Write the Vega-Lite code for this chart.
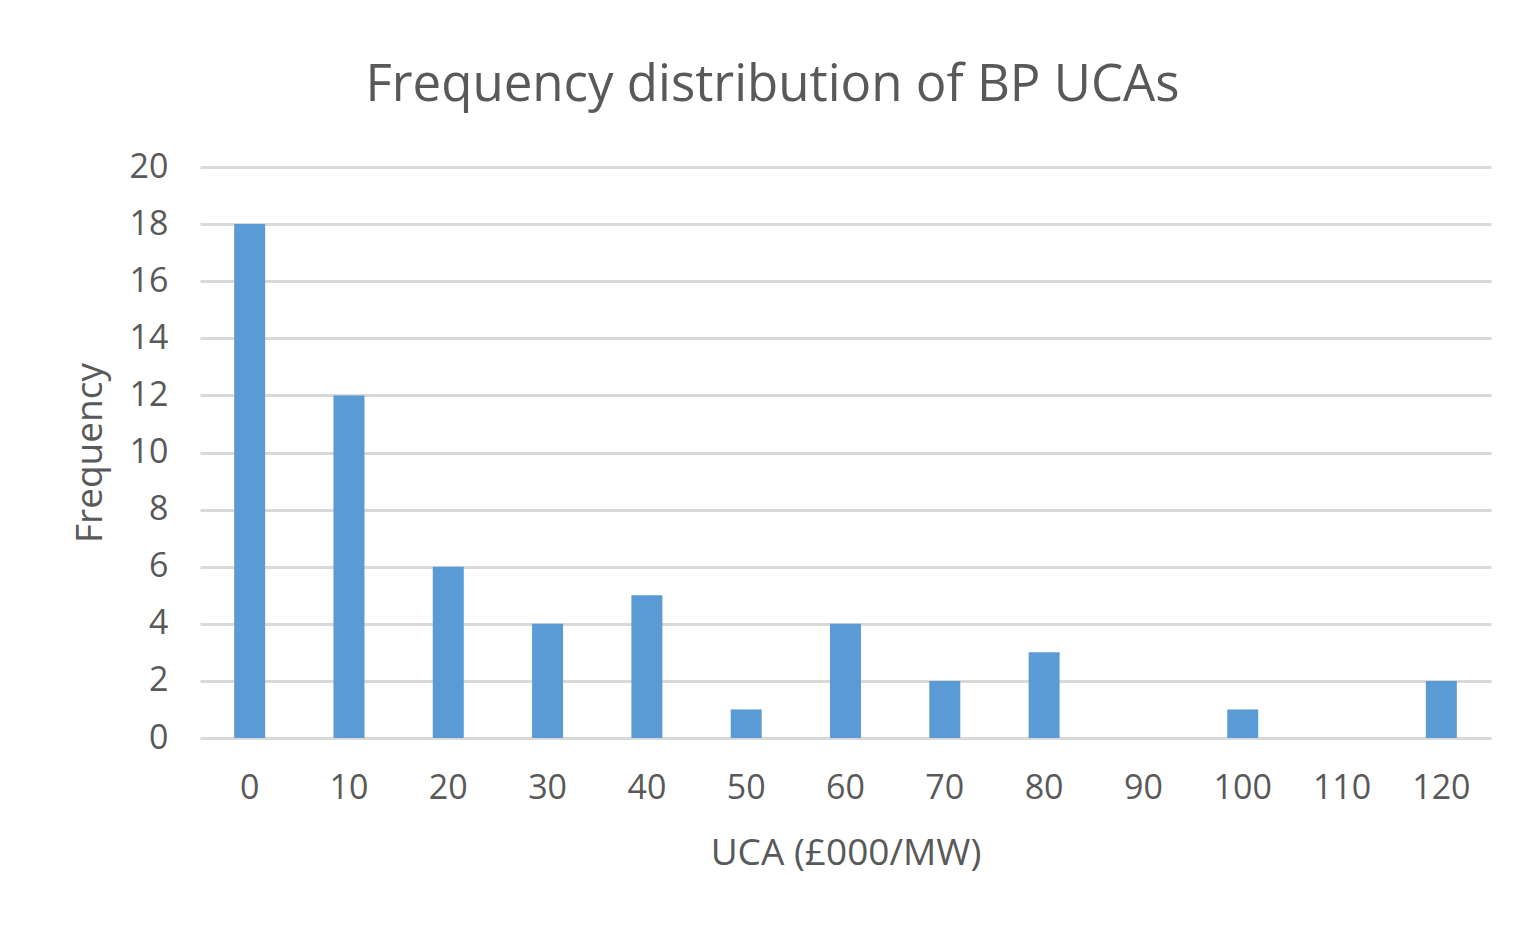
{
  "$schema": "https://vega.github.io/schema/vega-lite/v6.json",
  "autosize": {"type": "none"},
  "width": 1291,
  "height": 571,
  "padding": {"left": 200, "top": 167, "right": 35, "bottom": 189},
  "background": "white",
  "title": {
    "text": "Frequency distribution of BP UCAs",
    "font": "Open Sans",
    "fontSize": 51,
    "fontWeight": "normal",
    "color": "#595959",
    "anchor": "middle",
    "baseline": "alphabetic",
    "offset": -2,
    "dx": -73
  },
  "data": {
    "values": [
      {"uca": 0, "freq": 18},
      {"uca": 10, "freq": 12},
      {"uca": 20, "freq": 6},
      {"uca": 30, "freq": 4},
      {"uca": 40, "freq": 5},
      {"uca": 50, "freq": 1},
      {"uca": 60, "freq": 4},
      {"uca": 70, "freq": 2},
      {"uca": 80, "freq": 3},
      {"uca": 90, "freq": 0},
      {"uca": 100, "freq": 1},
      {"uca": 110, "freq": 0},
      {"uca": 120, "freq": 2}
    ]
  },
  "mark": {"type": "bar", "color": "#5B9BD5"},
  "encoding": {
    "x": {
      "field": "uca",
      "type": "ordinal",
      "scale": {"paddingInner": 0.688, "paddingOuter": 0.344},
      "axis": {
        "title": "UCA (£000/MW)",
        "labelAngle": 0,
        "domain": false,
        "ticks": false,
        "grid": false,
        "labelPadding": 33,
        "titlePadding": 30
      }
    },
    "y": {
      "field": "freq",
      "type": "quantitative",
      "scale": {"domain": [0, 20], "nice": false},
      "axis": {
        "title": "Frequency",
        "values": [0, 2, 4, 6, 8, 10, 12, 14, 16, 18, 20],
        "domain": false,
        "ticks": false,
        "grid": true,
        "gridColor": "#d9d9d9",
        "gridWidth": 3,
        "labelPadding": 32,
        "titlePadding": 20
      }
    }
  },
  "config": {
    "view": {"stroke": null},
    "axis": {
      "labelFont": "Open Sans",
      "labelFontSize": 34,
      "labelColor": "#595959",
      "titleFont": "Open Sans",
      "titleFontSize": 37,
      "titleFontWeight": "normal",
      "titleColor": "#595959"
    }
  }
}
